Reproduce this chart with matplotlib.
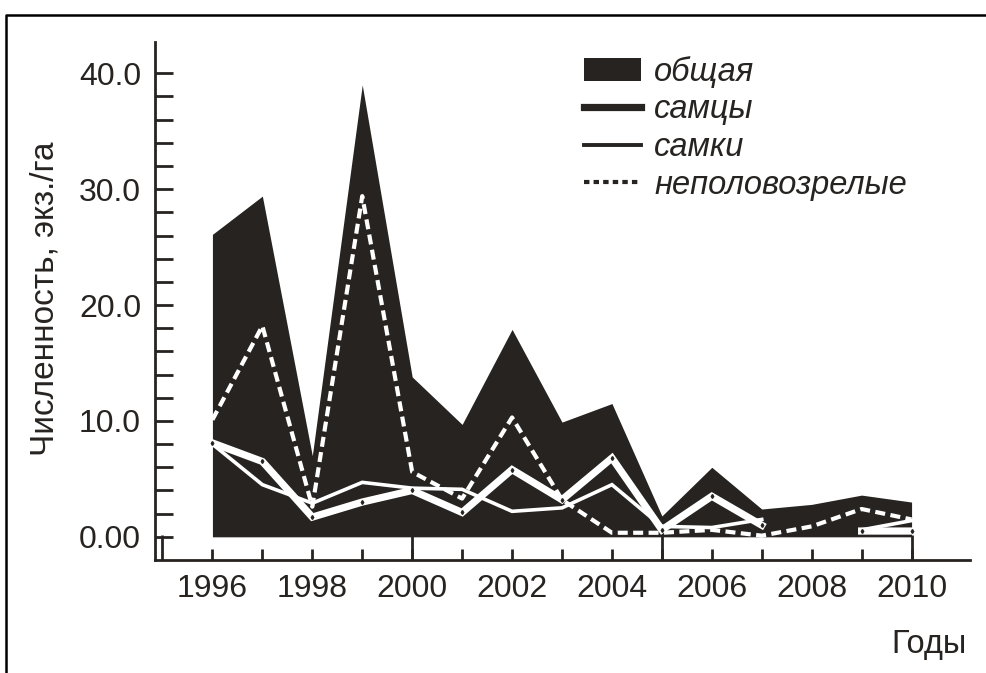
import numpy as np
import matplotlib
matplotlib.use("Agg")
import matplotlib.pyplot as plt
from matplotlib.patches import Patch
from matplotlib.lines import Line2D

# Численность по годам, экз./га
years = [1996, 1997, 1998, 1999, 2000, 2001, 2002, 2003,
         2004, 2005, 2006, 2007, 2008, 2009, 2010]
total = [26.1, 29.4, 7.0, 39.0, 13.8, 9.7, 17.9, 9.9,
         11.5, 1.8, 6.0, 2.4, 2.8, 3.6, 3.0]
males = [8.1, 6.5, 1.7, 3.0, 4.0, 2.1, 5.8, 3.2,
         6.8, 0.6, 3.5, 1.0, np.nan, 0.5, 0.5]
females = [8.0, 4.5, 2.9, 4.7, 4.2, 4.1, 2.2, 2.5,
           4.5, 0.9, 0.8, 1.5, np.nan, 0.6, 1.4]
immature = [10.1, 18.2, 2.6, 29.4, 5.6, 3.3, 10.3, 3.2,
            0.35, 0.35, 0.6, 0.1, 0.9, 2.4, 1.5]

series_names = ["общая", "самцы", "самки", "неполовозрелые"]
year_labels = ["1996", "1998", "2000", "2002", "2004", "2006", "2008", "2010"]
ytick_values = [0, 10, 20, 30, 40]
ytick_labels = ["0.00", "10.0", "20.0", "30.0", "40.0"]

DARK = "#262320"
W, H = 986, 673
FS = 23

plt.rcParams["font.family"] = ["Liberation Sans", "DejaVu Sans"]

fig = plt.figure(figsize=(W / 100, H / 100), dpi=100)
ax = fig.add_axes([155 / W, 1 - 560 / H, (970 - 155) / W, (560 - 42) / H])

ax.fill_between(years, 0, total, color=DARK, linewidth=0, zorder=1)
ax.plot(years, immature, color="white", lw=3.0, dashes=(2.4, 1.3),
        dash_capstyle="butt", zorder=2)
ax.plot(years, females, color="white", lw=2.6, solid_joinstyle="miter",
        zorder=3)
ax.plot(years, males, color="white", lw=5.2, solid_joinstyle="miter",
        zorder=4)
ax.plot(years, males, linestyle="none", marker="d", ms=2.0,
        color=DARK, zorder=5)

ax.set_xlim(1994.85, 2011.17)
ax.set_ylim(-2.0, 42.7)

for s in ["top", "right"]:
    ax.spines[s].set_visible(False)
for s in ["left", "bottom"]:
    ax.spines[s].set_color(DARK)
    ax.spines[s].set_linewidth(2.0)

# y axis: majors every 10, minors every 2, all ticks inward
ax.set_yticks(ytick_values)
ax.set_yticklabels(ytick_labels)
ax.set_yticks(np.arange(0, 42, 2), minor=True)
ax.tick_params(axis="y", which="both", direction="in", length=13,
               width=2.0, color=DARK, labelsize=FS, pad=10)

# x axis: short ticks every year, tall ticks every five years
ax.xaxis.remove_overlapping_locs = False
ax.set_xticks([1995, 2000, 2005, 2010])
ax.set_xticklabels([])
ax.set_xticks(np.arange(1996, 2011), minor=True)
minor_lbls = []
for y in range(1996, 2011):
    minor_lbls.append(str(y) if str(y) in year_labels else "")
ax.set_xticklabels(minor_lbls, minor=True)
ax.tick_params(axis="x", which="major", direction="in", length=18,
               width=2.0, color=DARK)
ax.tick_params(axis="x", which="minor", direction="in", length=8,
               width=2.0, color=DARK, labelsize=FS, pad=10)
for lbl in ax.get_xticklabels(minor=True):
    lbl.set_color(DARK)
for lbl in ax.get_yticklabels():
    lbl.set_color(DARK)

fig.text(45 / W, 1 - 299 / H, "Численность, экз./га", rotation=90,
         ha="center", va="center", fontsize=24, color=DARK)
fig.text(967 / W, 1 - 645 / H, "Годы", ha="right", va="center",
         fontsize=23.5, color=DARK)

handles = [
    Patch(facecolor=DARK, edgecolor="none"),
    Line2D([], [], color=DARK, lw=5.2),
    Line2D([], [], color=DARK, lw=2.8),
    Line2D([], [], color=DARK, lw=3.0, dashes=(1.3, 1.0)),
]
leg = fig.legend(handles, series_names, loc="upper left",
                 bbox_to_anchor=(584 / W, 1 - 56 / H), frameon=False,
                 prop={"style": "italic", "size": 23.5},
                 handlelength=1.75, handleheight=0.7, handletextpad=0.4,
                 labelspacing=0.2, borderaxespad=0, borderpad=0)
for t in leg.get_texts():
    t.set_color(DARK)

# outer frame
frame = Line2D([6 / W, 6 / W, 1.0], [0.0, 1 - 15 / H, 1 - 15 / H],
               transform=fig.transFigure, color="black", lw=1.8)
fig.add_artist(frame)

fig.savefig("out.png", dpi=100)
